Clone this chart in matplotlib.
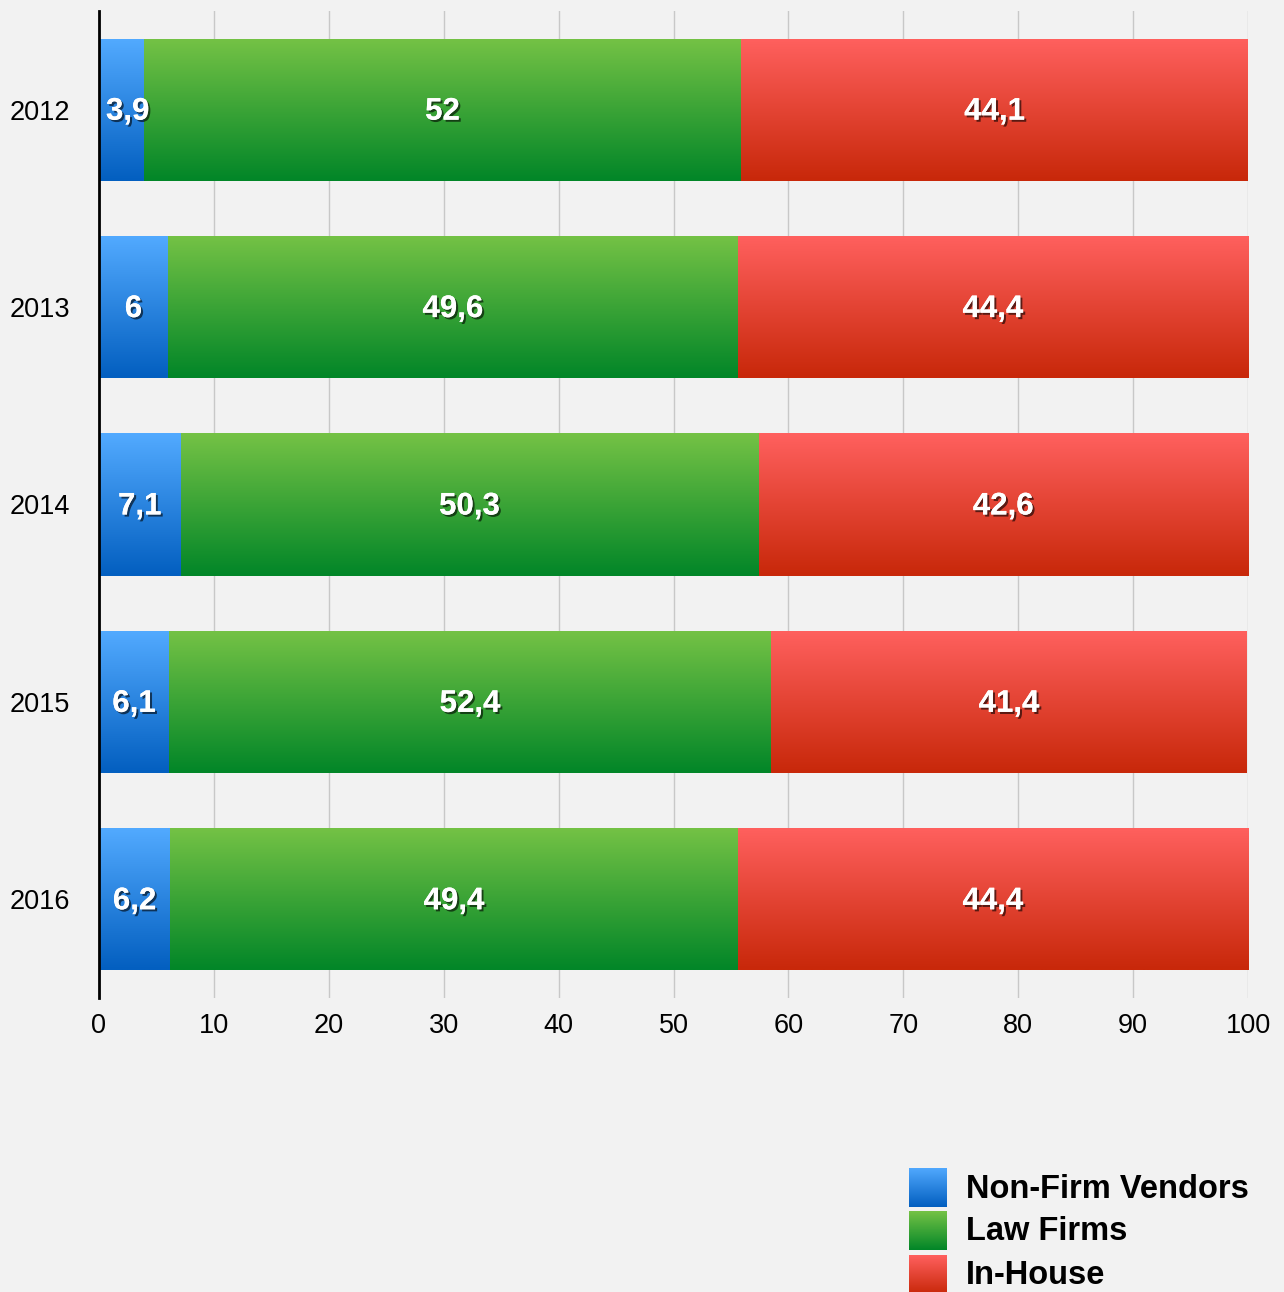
import numpy as np
import matplotlib
matplotlib.use("Agg")
import matplotlib.pyplot as plt
import matplotlib.patheffects as pe
from matplotlib.colors import to_rgb

# data
years = ["2012", "2013", "2014", "2015", "2016"]
vendors = [3.9, 6, 7.1, 6.1, 6.2]
law_firms = [52, 49.6, 50.3, 52.4, 49.4]
in_house = [44.1, 44.4, 42.6, 41.4, 44.4]
series_names = ["Non-Firm Vendors", "Law Firms", "In-House"]

# gradient top / bottom colours per series
grad_colors = [("#52aaff", "#035fc0"), ("#74c245", "#028628"), ("#ff605e", "#c8280a")]
bg = "#f2f2f2"


def gradient(top, bottom, n=64):
    t = np.linspace(0, 1, n)[:, None]
    c = (1 - t) * np.array(to_rgb(top)) + t * np.array(to_rgb(bottom))
    return c[:, None, :]


def fmt(v):
    s = ("%g" % v)
    return s.replace(".", ",")


fig = plt.figure(figsize=(12.84, 12.92), dpi=100, facecolor=bg)
ax = fig.add_axes([99 / 1284, 1 - 998 / 1292, 1149 / 1284, 987 / 1292])
ax.set_facecolor(bg)

ypos = np.arange(len(years))
left = np.zeros(len(years))
shadow = [pe.withSimplePatchShadow(offset=(1.5, -1.5), shadow_rgbFace="black", alpha=0.6),
          pe.Normal()]

for vals, (ctop, cbot) in zip([vendors, law_firms, in_house], grad_colors):
    bars = ax.barh(ypos, vals, left=left, height=0.72, color="none", zorder=2)
    for bar, v in zip(bars, vals):
        x0, y0 = bar.get_x(), bar.get_y()
        w, h = bar.get_width(), bar.get_height()
        im = ax.imshow(gradient(ctop, cbot), extent=(x0, x0 + w, y0 + h, y0),
                       aspect="auto", origin="upper", zorder=2, interpolation="bilinear")
        im.set_clip_path(bar)
        # keep the small labels off the axis line
        xc = max(x0 + w / 2, 2.5)
        ax.text(xc, y0 + h / 2 + 0.01, fmt(v), ha="center", va="center",
                color="white", fontsize=22.5, fontweight="bold",
                family="Liberation Sans", zorder=4, path_effects=shadow)
    left = left + np.array(vals)

ax.set_xlim(0, 100)
ax.set_ylim(4.5, -0.5)
ax.set_yticks(ypos)
ax.set_yticklabels(years, fontsize=19.5, family="Liberation Sans")
ax.set_xticks(np.arange(0, 101, 10))
ax.set_xticklabels([str(x) for x in range(0, 101, 10)], fontsize=19.5, family="Liberation Sans")
ax.tick_params(axis="y", length=0, pad=21)
ax.tick_params(axis="x", length=0, pad=11)
ax.grid(axis="x", color="#c8c8c8", linewidth=1, zorder=0)
ax.set_axisbelow(True)
for s in ["top", "right", "bottom"]:
    ax.spines[s].set_visible(False)
ax.spines["left"].set_linewidth(2)
ax.spines["left"].set_color("black")
ax.spines["left"].set_zorder(5)

# legend drawn by hand with gradient swatches
row_tops = [1168, 1211, 1255]
for name, (ctop, cbot), top in zip(series_names, grad_colors, row_tops):
    sw = fig.add_axes([909 / 1284, 1 - (top + 39) / 1292, 38 / 1284, 39 / 1292])
    sw.imshow(gradient(ctop, cbot), aspect="auto", interpolation="bilinear")
    sw.axis("off")
    fig.text(966 / 1284, 1 - (top + 21) / 1292, name, ha="left", va="center",
             fontsize=23.5, fontweight="bold", family="Liberation Sans", color="black")

fig.savefig("out.png", dpi=100, facecolor=bg)
